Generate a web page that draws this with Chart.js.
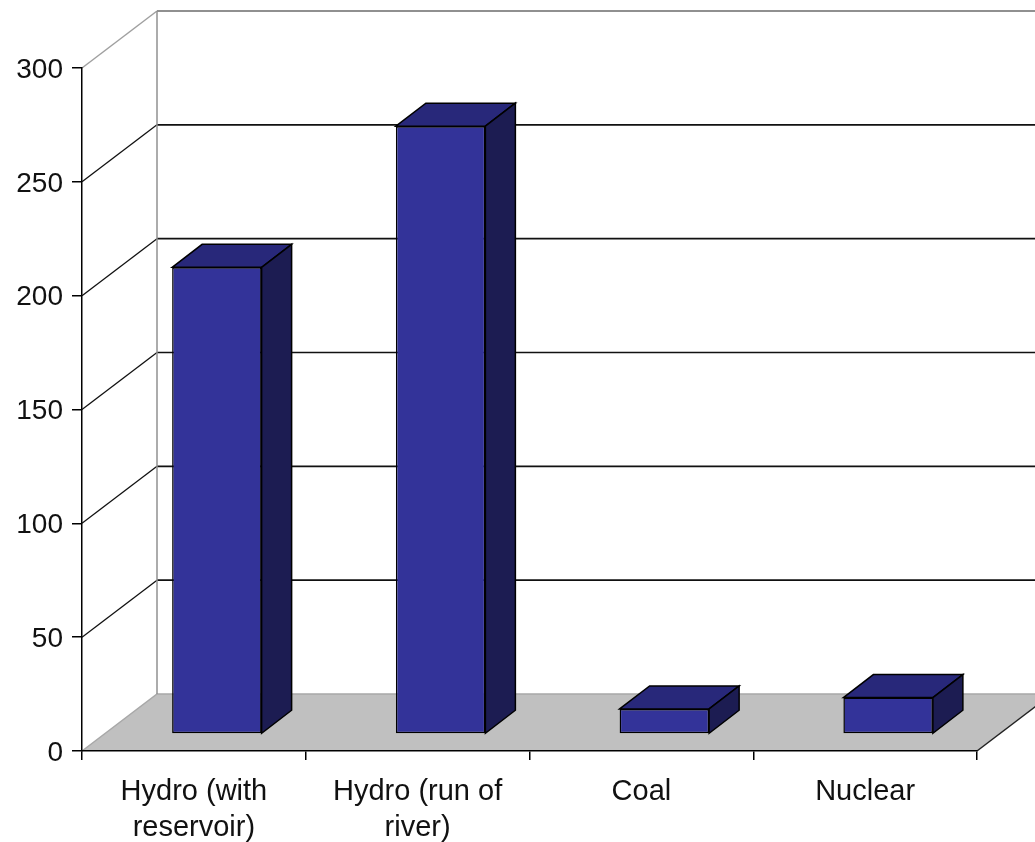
<!DOCTYPE html>
<html>
<head>
<meta charset="utf-8">
<title>Energy payback ratio</title>
<script src="https://cdn.jsdelivr.net/npm/chart.js@4/dist/chart.umd.min.js"></script>
<style>
  html, body { margin: 0; padding: 0; background: #ffffff; }
  #wrap { width: 1035px; height: 842px; }
</style>
</head>
<body>
<div id="wrap"><canvas id="chart" width="1035" height="842"></canvas></div>
<script>
// Categories (multi-line labels) and their values
const categories = [
  ['Hydro (with', 'reservoir)'],
  ['Hydro (run of', 'river)'],
  ['Coal'],
  ['Nuclear']
];
const values = [205, 267, 11, 16];
const yTickValues = [0, 50, 100, 150, 200, 250, 300];

// Oblique "3-D" frame geometry
const DEPTH_X = 75, DEPTH_Y = 57;         // wall depth
const BAR_SHIFT_X = 23, BAR_SHIFT_Y = 17; // bars sit part-way into the floor
const BAR_DEPTH_X = 30, BAR_DEPTH_Y = 23; // thickness of each bar

const FRONT = '#333399', TOP = '#28287a', SIDE = '#1c1c52';

const frame3d = {
  id: 'frame3d',
  beforeDraw(chart) {
    const { ctx, chartArea: a, scales: { y } } = chart;
    const W = chart.width;
    const y0 = y.getPixelForValue(yTickValues[0]);
    const yMax = y.getPixelForValue(yTickValues[yTickValues.length - 1]);
    ctx.save();
    ctx.fillStyle = '#ffffff';
    ctx.fillRect(0, 0, W, chart.height);

    // floor
    ctx.beginPath();
    ctx.moveTo(a.left, y0);
    ctx.lineTo(a.right, y0);
    ctx.lineTo(a.right + DEPTH_X, y0 - DEPTH_Y);
    ctx.lineTo(a.left + DEPTH_X, y0 - DEPTH_Y);
    ctx.closePath();
    ctx.fillStyle = '#c0c0c0';
    ctx.fill();

    // floor edges
    ctx.lineWidth = 1.5;
    ctx.strokeStyle = '#a8a8a8';
    ctx.beginPath();
    ctx.moveTo(a.left, y0);
    ctx.lineTo(a.left + DEPTH_X, y0 - DEPTH_Y);
    ctx.lineTo(a.right + DEPTH_X, y0 - DEPTH_Y);
    ctx.stroke();
    ctx.strokeStyle = '#222222';
    ctx.beginPath();
    ctx.moveTo(a.right, y0);
    ctx.lineTo(a.right + DEPTH_X, y0 - DEPTH_Y);
    ctx.stroke();

    // gridlines on the side wall and the back wall
    yTickValues.forEach(v => {
      if (v === yTickValues[0]) return;
      const py = y.getPixelForValue(v);
      const isTop = v === yTickValues[yTickValues.length - 1];
      ctx.strokeStyle = isTop ? '#a0a0a0' : '#111111';
      ctx.lineWidth = isTop ? 1.5 : 1.3;
      ctx.beginPath();
      ctx.moveTo(a.left, py);
      ctx.lineTo(a.left + DEPTH_X, py - DEPTH_Y);
      ctx.stroke();
      ctx.strokeStyle = isTop ? '#909090' : '#111111';
      ctx.lineWidth = isTop ? 2 : 1.6;
      ctx.beginPath();
      ctx.moveTo(a.left + DEPTH_X, py - DEPTH_Y);
      ctx.lineTo(W + 60, py - DEPTH_Y);
      ctx.stroke();
    });

    // back wall left edge
    ctx.strokeStyle = '#909090';
    ctx.lineWidth = 1.5;
    ctx.beginPath();
    ctx.moveTo(a.left + DEPTH_X, yMax - DEPTH_Y);
    ctx.lineTo(a.left + DEPTH_X, y0 - DEPTH_Y);
    ctx.stroke();
    ctx.restore();
  },
  beforeDatasetsDraw(chart) {
    chart.ctx.save();
    chart.ctx.translate(BAR_SHIFT_X, -BAR_SHIFT_Y);
  },
  afterDatasetsDraw(chart) {
    const ctx = chart.ctx;
    const meta = chart.getDatasetMeta(0);
    ctx.lineWidth = 1.5;
    ctx.strokeStyle = '#000000';
    ctx.lineJoin = 'miter';
    meta.data.forEach(bar => {
      const { x, y, base, width } = bar.getProps(['x', 'y', 'base', 'width'], true);
      const L = x - width / 2, R = x + width / 2;
      // top face
      ctx.beginPath();
      ctx.moveTo(L, y);
      ctx.lineTo(L + BAR_DEPTH_X, y - BAR_DEPTH_Y);
      ctx.lineTo(R + BAR_DEPTH_X, y - BAR_DEPTH_Y);
      ctx.lineTo(R, y);
      ctx.closePath();
      ctx.fillStyle = TOP;
      ctx.fill();
      ctx.stroke();
      // side face
      ctx.beginPath();
      ctx.moveTo(R, y);
      ctx.lineTo(R + BAR_DEPTH_X, y - BAR_DEPTH_Y);
      ctx.lineTo(R + BAR_DEPTH_X, base - BAR_DEPTH_Y);
      ctx.lineTo(R, base);
      ctx.closePath();
      ctx.fillStyle = SIDE;
      ctx.fill();
      ctx.stroke();
    });
    ctx.restore();
  }
};

new Chart(document.getElementById('chart'), {
  type: 'bar',
  data: {
    labels: categories,
    datasets: [{
      data: values,
      backgroundColor: FRONT,
      borderColor: '#000000',
      borderWidth: 1.5,
      borderSkipped: false,
      barPercentage: 0.4,
      categoryPercentage: 1.0,
      clip: false
    }]
  },
  options: {
    responsive: false,
    devicePixelRatio: 1,
    animation: false,
    layout: { padding: { top: 68, right: 58, bottom: 0, left: 0 } },
    plugins: {
      legend: { display: false },
      tooltip: { enabled: false },
      title: { display: false }
    },
    scales: {
      x: {
        type: 'category',
        offset: true,
        grid: { display: true, drawOnChartArea: false, offset: true, color: '#000000', tickLength: 9, lineWidth: 1.5 },
        border: { display: true, color: '#000000', width: 1.5 },
        ticks: {
          color: '#111111',
          font: { family: "'Liberation Sans', Arial, sans-serif", size: 29, lineHeight: 1.24 },
          padding: 14,
          maxRotation: 0,
          autoSkip: false
        },
        afterFit(scale) { scale.height = 91; }
      },
      y: {
        min: 0,
        max: 300,
        afterBuildTicks(scale) { scale.ticks = yTickValues.map(v => ({ value: v })); },
        grid: { display: true, drawOnChartArea: false, color: '#000000', tickLength: 10, lineWidth: 1.5 },
        border: { display: true, color: '#000000', width: 1.5 },
        ticks: {
          color: '#111111',
          font: { family: "'Liberation Sans', Arial, sans-serif", size: 28 },
          padding: 9,
          labelOffset: 2
        },
        afterFit(scale) { scale.width = 82; }
      }
    }
  },
  plugins: [frame3d]
});
</script>
</body>
</html>
